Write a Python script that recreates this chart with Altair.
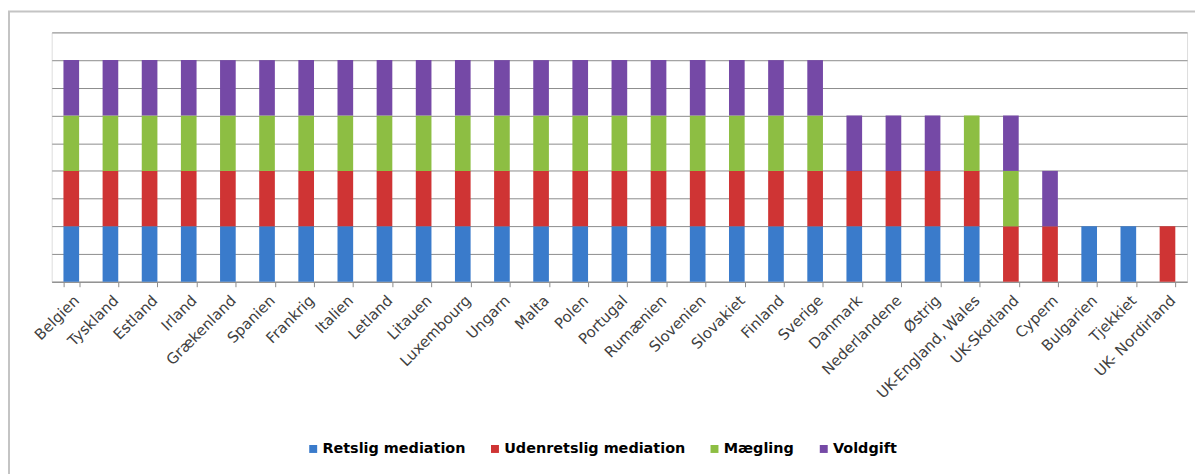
import altair as alt
import pandas as pd

countries = ["Belgien", "Tyskland", "Estland", "Irland", "Grækenland", "Spanien",
             "Frankrig", "Italien", "Letland", "Litauen", "Luxembourg", "Ungarn",
             "Malta", "Polen", "Portugal", "Rumænien", "Slovenien", "Slovakiet",
             "Finland", "Sverige", "Danmark", "Nederlandene", "Østrig",
             "UK-England, Wales", "UK-Skotland", "Cypern", "Bulgarien", "Tjekkiet",
             "UK- Nordirland"]

retslig_mediation     = [1, 1, 1, 1, 1, 1, 1, 1, 1, 1, 1, 1, 1, 1, 1, 1, 1, 1, 1, 1, 1, 1, 1, 1, 0, 0, 1, 1, 0]
udenretslig_mediation = [1, 1, 1, 1, 1, 1, 1, 1, 1, 1, 1, 1, 1, 1, 1, 1, 1, 1, 1, 1, 1, 1, 1, 1, 1, 1, 0, 0, 1]
maegling              = [1, 1, 1, 1, 1, 1, 1, 1, 1, 1, 1, 1, 1, 1, 1, 1, 1, 1, 1, 1, 0, 0, 0, 1, 1, 0, 0, 0, 0]
voldgift              = [1, 1, 1, 1, 1, 1, 1, 1, 1, 1, 1, 1, 1, 1, 1, 1, 1, 1, 1, 1, 1, 1, 1, 0, 1, 1, 0, 0, 0]

series_names = ["Retslig mediation", "Udenretslig mediation", "Mægling", "Voldgift"]
series_values = [retslig_mediation, udenretslig_mediation, maegling, voldgift]
series_colors = ["#3A7BCB", "#CF3434", "#8DBE43", "#7549A6"]

rows = []
for si, (name, vals) in enumerate(zip(series_names, series_values)):
    for c, v in zip(countries, vals):
        if v:
            rows.append({"land": c, "serie": name, "ordre": si, "vaerdi": v})
df = pd.DataFrame(rows)

bars = alt.Chart(df).mark_bar().encode(
    x=alt.X("land:N", sort=countries, title=None,
            scale=alt.Scale(paddingInner=0.6, paddingOuter=0.3),
            axis=alt.Axis(labelAngle=-45, labelAlign="right", labelBaseline="top",
                          labelFont="DejaVu Sans", labelFontSize=15,
                          labelColor="#404040", tickBand="extent", tickSize=5,
                          tickColor="#8c8c8c", domainColor="#8c8c8c",
                          labelPadding=6, labelLimit=300, grid=False)),
    y=alt.Y("vaerdi:Q", stack="zero", title=None,
            scale=alt.Scale(domain=[0, 4.5], nice=False),
            axis=alt.Axis(values=[0, 0.5, 1, 1.5, 2, 2.5, 3, 3.5, 4, 4.5],
                          labels=False, ticks=False, domain=False,
                          gridColor="#8c8c8c", gridWidth=1)),
    color=alt.Color("serie:N", sort=series_names,
                    scale=alt.Scale(domain=series_names, range=series_colors),
                    legend=alt.Legend(title=None, orient="none", direction="horizontal",
                                      legendX=256, legendY=412, symbolType="square",
                                      symbolSize=64, labelFont="DejaVu Sans",
                                      labelFontWeight="bold", labelFontSize=14.5,
                                      labelColor="#000000", columnPadding=22,
                                      labelOffset=2, labelLimit=400)),
    order=alt.Order("ordre:Q", sort="ascending"),
)

frame = alt.Chart(pd.DataFrame({"k": [0]})).mark_rect(
    filled=False, stroke="#c4c4c4", strokeWidth=2
).encode(x=alt.value(-43), x2=alt.value(1160), y=alt.value(-21), y2=alt.value(520))

chart = alt.layer(bars, frame).properties(
    width=1143, height=251,
    autosize=alt.AutoSizeParams(type="none"),
    padding={"left": 44, "top": 23, "right": 8, "bottom": 192},
).configure_view(stroke=None).configure(background="#ffffff")

chart.save("out.html", embed_options={"renderer": "svg", "actions": False})
